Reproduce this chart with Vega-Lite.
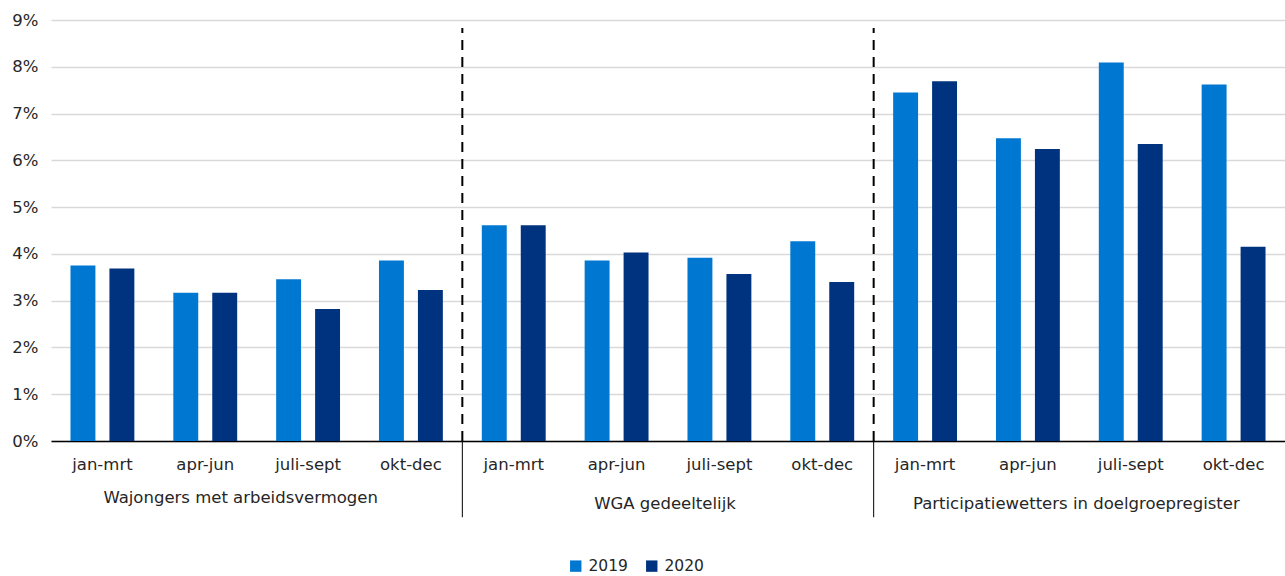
{
  "$schema": "https://vega.github.io/schema/vega-lite/v6.json",
  "autosize": {"type": "none"},
  "width": 1234,
  "height": 421,
  "padding": {"left": 51, "top": 20, "right": 0, "bottom": 135},
  "background": "white",
  "config": {
    "view": {"stroke": null},
    "font": "DejaVu Sans",
    "text": {"font": "DejaVu Sans", "fontSize": 17, "color": "#262626"}
  },
  "datasets": {
    "bars": [
      {"group": "1", "quarter": "jan-mrt", "year": "2019", "value": 0.0375},
      {"group": "1", "quarter": "jan-mrt", "year": "2020", "value": 0.0369},
      {"group": "1", "quarter": "apr-jun", "year": "2019", "value": 0.0317},
      {"group": "1", "quarter": "apr-jun", "year": "2020", "value": 0.0317},
      {"group": "1", "quarter": "juli-sept", "year": "2019", "value": 0.0346},
      {"group": "1", "quarter": "juli-sept", "year": "2020", "value": 0.0282},
      {"group": "1", "quarter": "okt-dec", "year": "2019", "value": 0.0386},
      {"group": "1", "quarter": "okt-dec", "year": "2020", "value": 0.0323},
      {"group": "2", "quarter": "jan-mrt", "year": "2019", "value": 0.0461},
      {"group": "2", "quarter": "jan-mrt", "year": "2020", "value": 0.0461},
      {"group": "2", "quarter": "apr-jun", "year": "2019", "value": 0.0386},
      {"group": "2", "quarter": "apr-jun", "year": "2020", "value": 0.0403},
      {"group": "2", "quarter": "juli-sept", "year": "2019", "value": 0.0392},
      {"group": "2", "quarter": "juli-sept", "year": "2020", "value": 0.0357},
      {"group": "2", "quarter": "okt-dec", "year": "2019", "value": 0.0427},
      {"group": "2", "quarter": "okt-dec", "year": "2020", "value": 0.0340},
      {"group": "3", "quarter": "jan-mrt", "year": "2019", "value": 0.0745},
      {"group": "3", "quarter": "jan-mrt", "year": "2020", "value": 0.0769},
      {"group": "3", "quarter": "apr-jun", "year": "2019", "value": 0.0647},
      {"group": "3", "quarter": "apr-jun", "year": "2020", "value": 0.0624},
      {"group": "3", "quarter": "juli-sept", "year": "2019", "value": 0.0809},
      {"group": "3", "quarter": "juli-sept", "year": "2020", "value": 0.0635},
      {"group": "3", "quarter": "okt-dec", "year": "2019", "value": 0.0762},
      {"group": "3", "quarter": "okt-dec", "year": "2020", "value": 0.0415}
    ],
    "groups": [
      {"group": "1", "name": "Wajongers met arbeidsvermogen"},
      {"group": "2", "name": "WGA gedeeltelijk"},
      {"group": "3", "name": "Participatiewetters in doelgroepregister"}
    ]
  },
  "layer": [
    {
      "data": {"name": "bars"},
      "transform": [{"calculate": "datum.group + ' ' + datum.quarter", "as": "k"}],
      "mark": {"type": "bar"},
      "encoding": {
        "x": {
          "field": "k", "type": "nominal",
          "scale": {
            "domain": ["1 jan-mrt", "1 apr-jun", "1 juli-sept", "1 okt-dec", "2 jan-mrt", "2 apr-jun", "2 juli-sept", "2 okt-dec", "3 jan-mrt", "3 apr-jun", "3 juli-sept", "3 okt-dec"],
            "paddingInner": 0, "paddingOuter": 0
          },
          "axis": {
            "title": null,
            "labelExpr": "slice(datum.value, 2)",
            "labelAngle": 0,
            "labelFont": "DejaVu Sans",
            "labelFontSize": 16.5,
            "labelColor": "#262626",
            "labelPadding": 15,
            "ticks": false,
            "domain": true,
            "domainColor": "#000000",
            "domainWidth": 1.3,
            "grid": false
          }
        },
        "xOffset": {"field": "year", "type": "nominal", "scale": {"paddingInner": 0.36, "paddingOuter": 0.5}},
        "y": {
          "field": "value", "type": "quantitative",
          "scale": {"domain": [0, 0.09], "nice": false, "zero": true},
          "axis": {
            "title": null,
            "values": [0, 0.01, 0.02, 0.03, 0.04, 0.05, 0.06, 0.07, 0.08, 0.09],
            "format": ".0%",
            "domain": false,
            "ticks": false,
            "labelPadding": 13,
            "labelFont": "DejaVu Sans",
            "labelFontSize": 16.5,
            "labelColor": "#262626",
            "gridColor": "#d9d9d9",
            "gridWidth": 1.3
          }
        },
        "color": {
          "field": "year", "type": "nominal",
          "scale": {"domain": ["2019", "2020"], "range": ["#0078D2", "#00337F"]},
          "legend": {
            "title": null,
            "orient": "none",
            "legendX": 517,
            "legendY": 538,
            "direction": "horizontal",
            "symbolType": "square",
            "symbolSize": 130,
            "symbolStrokeWidth": 0,
            "labelFont": "DejaVu Sans",
            "labelFontSize": 15.5,
            "labelColor": "#262626",
            "columnPadding": 16,
            "labelOffset": 5
          }
        }
      }
    },
    {
      "data": {"name": "groups"},
      "transform": [
        {"filter": "datum.group != '1'"},
        {"calculate": "datum.group + ' jan-mrt'", "as": "k"}
      ],
      "mark": {"type": "rule", "color": "#000000", "strokeWidth": 2, "strokeDash": [10, 7]},
      "encoding": {
        "x": {"field": "k", "type": "nominal", "bandPosition": 0},
        "y": {"datum": 0},
        "y2": {"datum": 0.0883}
      }
    },
    {
      "data": {"name": "groups"},
      "transform": [
        {"filter": "datum.group != '1'"},
        {"calculate": "datum.group + ' jan-mrt'", "as": "k"}
      ],
      "mark": {"type": "rule", "color": "#000000", "strokeWidth": 1},
      "encoding": {
        "x": {"field": "k", "type": "nominal", "bandPosition": 0},
        "y": {"datum": 0},
        "y2": {"datum": -0.0163}
      }
    },
    {
      "data": {"name": "groups"},
      "transform": [
        {"filter": "datum.group == '1'"},
        {"calculate": "datum.group + ' apr-jun'", "as": "k"}
      ],
      "mark": {"type": "text", "baseline": "middle", "align": "center", "dx": -16, "fontSize": 16.5},
      "encoding": {
        "x": {"field": "k", "type": "nominal", "bandPosition": 1},
        "y": {"datum": -0.0122},
        "text": {"field": "name"}
      }
    },
    {
      "data": {"name": "groups"},
      "transform": [
        {"filter": "datum.group != '1'"},
        {"calculate": "datum.group + ' apr-jun'", "as": "k"}
      ],
      "mark": {"type": "text", "baseline": "middle", "align": "center", "dx": -3, "fontSize": 16.5},
      "encoding": {
        "x": {"field": "k", "type": "nominal", "bandPosition": 1},
        "y": {"datum": -0.0134},
        "text": {"field": "name"}
      }
    }
  ]
}
